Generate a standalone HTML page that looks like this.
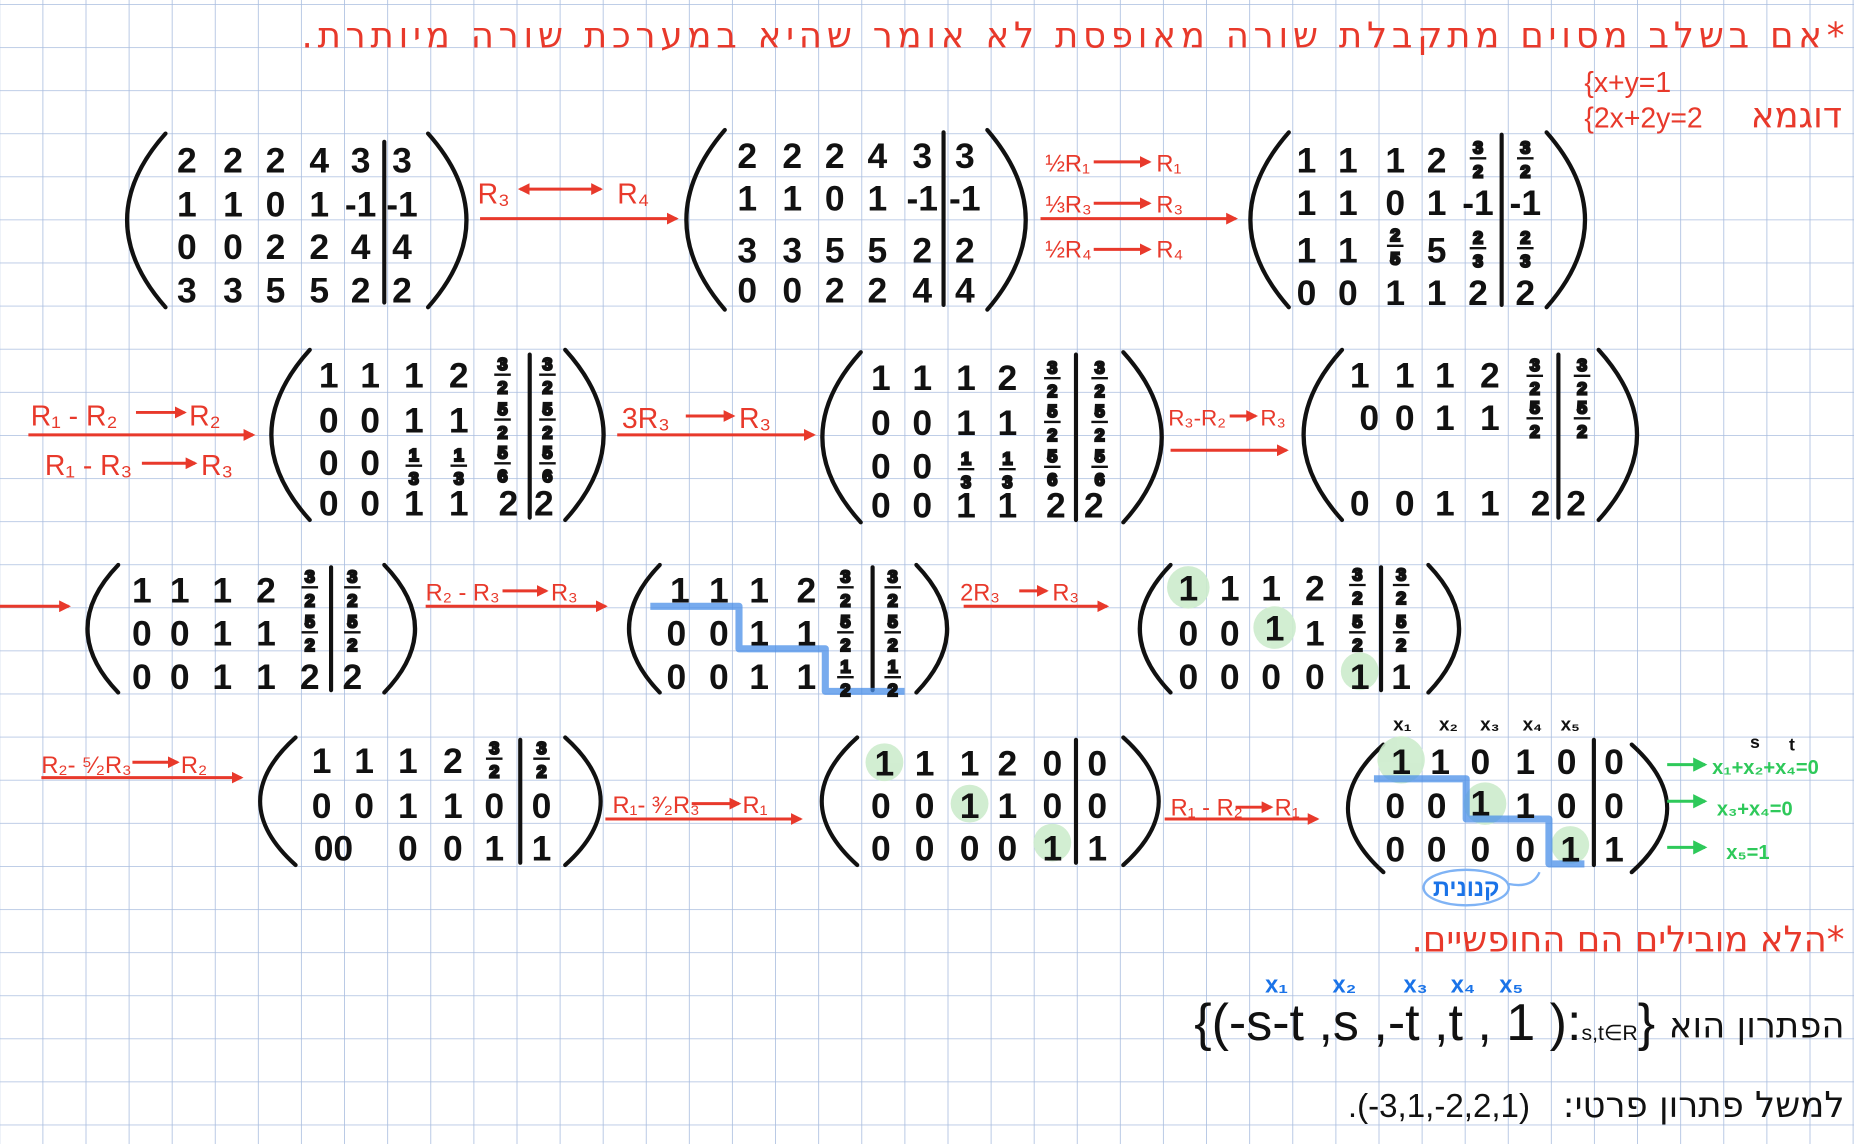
<!DOCTYPE html>
<html><head><meta charset="utf-8">
<style>
html,body{margin:0;padding:0;background:#fff;}
body{width:1854px;height:1144px;overflow:hidden;position:relative;}
svg{position:absolute;left:0;top:0;}
.n{font-family:"Liberation Sans","DejaVu Sans",sans-serif;font-weight:bold;font-size:30px;fill:#111;text-anchor:middle;}
.f{font-family:"Liberation Sans",sans-serif;font-weight:bold;font-size:15px;fill:#111;text-anchor:middle;}
.r{font-family:"Liberation Sans","DejaVu Sans",sans-serif;fill:#e8392b;font-size:24px;}
.h{font-family:"DejaVu Sans","Liberation Sans",sans-serif;font-size:30px;}
.rtl{direction:rtl;unicode-bidi:embed;text-anchor:start;}
.g{font-family:"Liberation Sans",sans-serif;fill:#2ec95a;font-size:17px;font-weight:bold;}
.b{font-family:"Liberation Sans",sans-serif;fill:#1a73e8;font-size:20px;font-weight:bold;}
</style></head><body>
<svg width="1854" height="1144">
<defs><pattern id="gp" x="0.2" y="4" width="43.1" height="43.1" patternUnits="userSpaceOnUse">
<path d="M43.1 0V43.1M0 0H43.1" stroke="#a9bddf" stroke-width="1.6" fill="none"/></pattern></defs>
<rect width="1854" height="1144" fill="url(#gp)"/>
</svg>
<svg width="1854" height="1144" viewBox="0 0 1568 968" preserveAspectRatio="none">
<defs><marker id="ar" markerWidth="10" markerHeight="10" refX="8" refY="5" orient="auto" markerUnits="userSpaceOnUse"><path d="M0,0L10,5L0,10z" fill="#e8392b"/></marker>
<marker id="ars" markerWidth="10" markerHeight="10" refX="2" refY="5" orient="auto" markerUnits="userSpaceOnUse"><path d="M10,0L0,5L10,10z" fill="#e8392b"/></marker>
<marker id="ag" markerWidth="12" markerHeight="12" refX="10" refY="6" orient="auto" markerUnits="userSpaceOnUse"><path d="M0,0L12,6L0,12z" fill="#2ec95a"/></marker></defs>
<g fill="none" stroke="#111" stroke-width="3.5" stroke-linecap="round">
<path d="M140,113Q75,186 140,260M362,113Q427,186 362,260"/>
<path d="M613,110Q548,186 613,262M835,110Q900,186 835,262"/>
<path d="M1090,112Q1025,186 1090,260M1308,112Q1373,186 1308,260"/>
<path d="M262,296Q197,368 262,440M478,296Q543,368 478,440"/>
<path d="M728,298Q663,370 728,442M950,298Q1015,370 950,442"/>
<path d="M1135,296Q1070,368 1135,440M1352,296Q1417,368 1352,440"/>
<path d="M100,478Q48,532 100,586M325,478Q377,532 325,586"/>
<path d="M558,478Q506,532 558,586M775,478Q827,532 775,586"/>
<path d="M990,478Q938,532 990,586M1208,478Q1260,532 1208,586"/>
<path d="M250,624Q190,678 250,732M478,624Q538,678 478,732"/>
<path d="M725,624Q665,678 725,732M950,624Q1010,678 950,732"/>
<path d="M1170,630Q1110,684 1170,738M1380,630Q1440,684 1380,738"/>
<path d="M325,120V256M798,112V258M1270,114V258M448,300V438M910,300V440M1318,300V438M280,480V584M738,480V584M1168,480V584M440,626V730M910,626V730M1348,626V732"/>
</g>
<g fill="#cdeccd" opacity="0.9">
<circle cx="1005" cy="497" r="18"/><circle cx="1078" cy="531" r="18"/><circle cx="1150" cy="568" r="16"/>
<circle cx="748" cy="645" r="16"/><circle cx="820" cy="680" r="16"/><circle cx="890" cy="713" r="16"/>
<circle cx="1185" cy="643" r="20"/><circle cx="1256" cy="680" r="18"/><circle cx="1328" cy="715" r="16"/>
</g>
<g fill="none" stroke="#4a8fe8" stroke-width="6" opacity="0.75" stroke-linejoin="round">
<path d="M550,513H625V549H698V585H765"/>
<path d="M1162,659H1240V693H1310V731H1340"/>
</g>
<g class="n">
<text x="158" y="146">2</text><text x="197" y="146">2</text><text x="233" y="146">2</text><text x="270" y="146">4</text><text x="305" y="146">3</text><text x="340" y="146">3</text>
<text x="158" y="183">1</text><text x="197" y="183">1</text><text x="233" y="183">0</text><text x="270" y="183">1</text><text x="305" y="183">-1</text><text x="340" y="183">-1</text>
<text x="158" y="219">0</text><text x="197" y="219">0</text><text x="233" y="219">2</text><text x="270" y="219">2</text><text x="305" y="219">4</text><text x="340" y="219">4</text>
<text x="158" y="256">3</text><text x="197" y="256">3</text><text x="233" y="256">5</text><text x="270" y="256">5</text><text x="305" y="256">2</text><text x="340" y="256">2</text>
<text x="632" y="142">2</text><text x="670" y="142">2</text><text x="706" y="142">2</text><text x="742" y="142">4</text><text x="780" y="142">3</text><text x="816" y="142">3</text>
<text x="632" y="178">1</text><text x="670" y="178">1</text><text x="706" y="178">0</text><text x="742" y="178">1</text><text x="780" y="178">-1</text><text x="816" y="178">-1</text>
<text x="632" y="222">3</text><text x="670" y="222">3</text><text x="706" y="222">5</text><text x="742" y="222">5</text><text x="780" y="222">2</text><text x="816" y="222">2</text>
<text x="632" y="256">0</text><text x="670" y="256">0</text><text x="706" y="256">2</text><text x="742" y="256">2</text><text x="780" y="256">4</text><text x="816" y="256">4</text>
<text x="1105" y="146">1</text><text x="1140" y="146">1</text><text x="1180" y="146">1</text><text x="1215" y="146">2</text>
<text x="1105" y="182">1</text><text x="1140" y="182">1</text><text x="1180" y="182">0</text><text x="1215" y="182">1</text><text x="1250" y="182">-1</text><text x="1290" y="182">-1</text>
<text x="1105" y="222">1</text><text x="1140" y="222">1</text><text x="1215" y="222">5</text>
<text x="1105" y="258">0</text><text x="1140" y="258">0</text><text x="1180" y="258">1</text><text x="1215" y="258">1</text><text x="1250" y="258">2</text><text x="1290" y="258">2</text>
<text x="278" y="328">1</text><text x="313" y="328">1</text><text x="350" y="328">1</text><text x="388" y="328">2</text>
<text x="278" y="366">0</text><text x="313" y="366">0</text><text x="350" y="366">1</text><text x="388" y="366">1</text>
<text x="278" y="402">0</text><text x="313" y="402">0</text>
<text x="278" y="436">0</text><text x="313" y="436">0</text><text x="350" y="436">1</text><text x="388" y="436">1</text><text x="430" y="436">2</text><text x="460" y="436">2</text>
<text x="745" y="330">1</text><text x="780" y="330">1</text><text x="817" y="330">1</text><text x="852" y="330">2</text>
<text x="745" y="368">0</text><text x="780" y="368">0</text><text x="817" y="368">1</text><text x="852" y="368">1</text>
<text x="745" y="405">0</text><text x="780" y="405">0</text>
<text x="745" y="438">0</text><text x="780" y="438">0</text><text x="817" y="438">1</text><text x="852" y="438">1</text><text x="893" y="438">2</text><text x="925" y="438">2</text>
<text x="1150" y="328">1</text><text x="1188" y="328">1</text><text x="1222" y="328">1</text><text x="1260" y="328">2</text>
<text x="1158" y="364">0</text><text x="1188" y="364">0</text><text x="1222" y="364">1</text><text x="1260" y="364">1</text>
<text x="1150" y="436">0</text><text x="1188" y="436">0</text><text x="1222" y="436">1</text><text x="1260" y="436">1</text><text x="1303" y="436">2</text><text x="1333" y="436">2</text>
<text x="120" y="510">1</text><text x="152" y="510">1</text><text x="188" y="510">1</text><text x="225" y="510">2</text>
<text x="120" y="546">0</text><text x="152" y="546">0</text><text x="188" y="546">1</text><text x="225" y="546">1</text>
<text x="120" y="583">0</text><text x="152" y="583">0</text><text x="188" y="583">1</text><text x="225" y="583">1</text><text x="262" y="583">2</text><text x="298" y="583">2</text>
<text x="575" y="510">1</text><text x="608" y="510">1</text><text x="642" y="510">1</text><text x="682" y="510">2</text>
<text x="572" y="546">0</text><text x="608" y="546">0</text><text x="642" y="546">1</text><text x="682" y="546">1</text>
<text x="572" y="583">0</text><text x="608" y="583">0</text><text x="642" y="583">1</text><text x="682" y="583">1</text>
<text x="1005" y="508">1</text><text x="1040" y="508">1</text><text x="1075" y="508">1</text><text x="1112" y="508">2</text>
<text x="1005" y="546">0</text><text x="1040" y="546">0</text><text x="1078" y="542">1</text><text x="1112" y="546">1</text>
<text x="1005" y="583">0</text><text x="1040" y="583">0</text><text x="1075" y="583">0</text><text x="1112" y="583">0</text><text x="1150" y="583">1</text><text x="1185" y="583">1</text>
<text x="272" y="654">1</text><text x="308" y="654">1</text><text x="345" y="654">1</text><text x="383" y="654">2</text>
<text x="272" y="692">0</text><text x="308" y="692">0</text><text x="345" y="692">1</text><text x="383" y="692">1</text><text x="418" y="692">0</text><text x="458" y="692">0</text>
<text x="282" y="728">00</text><text x="345" y="728">0</text><text x="383" y="728">0</text><text x="418" y="728">1</text><text x="458" y="728">1</text>
<text x="748" y="656">1</text><text x="782" y="656">1</text><text x="820" y="656">1</text><text x="852" y="656">2</text><text x="890" y="656">0</text><text x="928" y="656">0</text>
<text x="745" y="692">0</text><text x="782" y="692">0</text><text x="820" y="692">1</text><text x="852" y="692">1</text><text x="890" y="692">0</text><text x="928" y="692">0</text>
<text x="745" y="728">0</text><text x="782" y="728">0</text><text x="820" y="728">0</text><text x="852" y="728">0</text><text x="890" y="728">1</text><text x="928" y="728">1</text>
<text x="1185" y="655">1</text><text x="1218" y="655">1</text><text x="1252" y="655">0</text><text x="1290" y="655">1</text><text x="1325" y="655">0</text><text x="1365" y="655">0</text>
<text x="1180" y="692">0</text><text x="1215" y="692">0</text><text x="1252" y="690">1</text><text x="1290" y="692">1</text><text x="1325" y="692">0</text><text x="1365" y="692">0</text>
<text x="1180" y="729">0</text><text x="1215" y="729">0</text><text x="1252" y="729">0</text><text x="1290" y="729">0</text><text x="1328" y="729">1</text><text x="1365" y="729">1</text>
</g>
<g class="f" stroke="#111" stroke-width="2">
<g transform="translate(1250,132)"><text y="-2">3</text><line x1="-7" x2="7" y1="2" y2="2"/><text y="18">2</text></g>
<g transform="translate(1290,132)"><text y="-2">3</text><line x1="-7" x2="7" y1="2" y2="2"/><text y="18">2</text></g>
<g transform="translate(1180,206)"><text y="-2">2</text><line x1="-7" x2="7" y1="2" y2="2"/><text y="18">5</text></g>
<g transform="translate(1250,208)"><text y="-2">2</text><line x1="-7" x2="7" y1="2" y2="2"/><text y="18">3</text></g>
<g transform="translate(1290,208)"><text y="-2">2</text><line x1="-7" x2="7" y1="2" y2="2"/><text y="18">3</text></g>
<g transform="translate(425,315)"><text y="-2">3</text><line x1="-7" x2="7" y1="2" y2="2"/><text y="18">2</text></g>
<g transform="translate(463,315)"><text y="-2">3</text><line x1="-7" x2="7" y1="2" y2="2"/><text y="18">2</text></g>
<g transform="translate(425,353)"><text y="-2">5</text><line x1="-7" x2="7" y1="2" y2="2"/><text y="18">2</text></g>
<g transform="translate(463,353)"><text y="-2">5</text><line x1="-7" x2="7" y1="2" y2="2"/><text y="18">2</text></g>
<g transform="translate(350,392)"><text y="-2">1</text><line x1="-7" x2="7" y1="2" y2="2"/><text y="18">3</text></g>
<g transform="translate(388,392)"><text y="-2">1</text><line x1="-7" x2="7" y1="2" y2="2"/><text y="18">3</text></g>
<g transform="translate(425,390)"><text y="-2">5</text><line x1="-7" x2="7" y1="2" y2="2"/><text y="18">6</text></g>
<g transform="translate(463,390)"><text y="-2">5</text><line x1="-7" x2="7" y1="2" y2="2"/><text y="18">6</text></g>
<g transform="translate(890,318)"><text y="-2">3</text><line x1="-7" x2="7" y1="2" y2="2"/><text y="18">2</text></g>
<g transform="translate(930,318)"><text y="-2">3</text><line x1="-7" x2="7" y1="2" y2="2"/><text y="18">2</text></g>
<g transform="translate(890,355)"><text y="-2">5</text><line x1="-7" x2="7" y1="2" y2="2"/><text y="18">2</text></g>
<g transform="translate(930,355)"><text y="-2">5</text><line x1="-7" x2="7" y1="2" y2="2"/><text y="18">2</text></g>
<g transform="translate(817,395)"><text y="-2">1</text><line x1="-7" x2="7" y1="2" y2="2"/><text y="18">3</text></g>
<g transform="translate(852,395)"><text y="-2">1</text><line x1="-7" x2="7" y1="2" y2="2"/><text y="18">3</text></g>
<g transform="translate(890,393)"><text y="-2">5</text><line x1="-7" x2="7" y1="2" y2="2"/><text y="18">6</text></g>
<g transform="translate(930,393)"><text y="-2">5</text><line x1="-7" x2="7" y1="2" y2="2"/><text y="18">6</text></g>
<g transform="translate(1298,316)"><text y="-2">3</text><line x1="-7" x2="7" y1="2" y2="2"/><text y="18">2</text></g>
<g transform="translate(1338,316)"><text y="-2">3</text><line x1="-7" x2="7" y1="2" y2="2"/><text y="18">2</text></g>
<g transform="translate(1298,352)"><text y="-2">5</text><line x1="-7" x2="7" y1="2" y2="2"/><text y="18">2</text></g>
<g transform="translate(1338,352)"><text y="-2">5</text><line x1="-7" x2="7" y1="2" y2="2"/><text y="18">2</text></g>
<g transform="translate(262,495)"><text y="-2">3</text><line x1="-7" x2="7" y1="2" y2="2"/><text y="18">2</text></g>
<g transform="translate(298,495)"><text y="-2">3</text><line x1="-7" x2="7" y1="2" y2="2"/><text y="18">2</text></g>
<g transform="translate(262,533)"><text y="-2">5</text><line x1="-7" x2="7" y1="2" y2="2"/><text y="18">2</text></g>
<g transform="translate(298,533)"><text y="-2">5</text><line x1="-7" x2="7" y1="2" y2="2"/><text y="18">2</text></g>
<g transform="translate(715,495)"><text y="-2">3</text><line x1="-7" x2="7" y1="2" y2="2"/><text y="18">2</text></g>
<g transform="translate(755,495)"><text y="-2">3</text><line x1="-7" x2="7" y1="2" y2="2"/><text y="18">2</text></g>
<g transform="translate(715,533)"><text y="-2">5</text><line x1="-7" x2="7" y1="2" y2="2"/><text y="18">2</text></g>
<g transform="translate(755,533)"><text y="-2">5</text><line x1="-7" x2="7" y1="2" y2="2"/><text y="18">2</text></g>
<g transform="translate(715,571)"><text y="-2">1</text><line x1="-7" x2="7" y1="2" y2="2"/><text y="18">2</text></g>
<g transform="translate(755,571)"><text y="-2">1</text><line x1="-7" x2="7" y1="2" y2="2"/><text y="18">2</text></g>
<g transform="translate(1148,493)"><text y="-2">3</text><line x1="-7" x2="7" y1="2" y2="2"/><text y="18">2</text></g>
<g transform="translate(1185,493)"><text y="-2">3</text><line x1="-7" x2="7" y1="2" y2="2"/><text y="18">2</text></g>
<g transform="translate(1148,533)"><text y="-2">5</text><line x1="-7" x2="7" y1="2" y2="2"/><text y="18">2</text></g>
<g transform="translate(1185,533)"><text y="-2">5</text><line x1="-7" x2="7" y1="2" y2="2"/><text y="18">2</text></g>
<g transform="translate(418,640)"><text y="-2">3</text><line x1="-7" x2="7" y1="2" y2="2"/><text y="18">2</text></g>
<g transform="translate(458,640)"><text y="-2">3</text><line x1="-7" x2="7" y1="2" y2="2"/><text y="18">2</text></g>
</g>
<g stroke="#e8392b" stroke-width="2.5" fill="none" marker-end="url(#ar)">
<path d="M406,185H572"/><path d="M440,160H508" marker-start="url(#ars)"/>
<path d="M880,185H1045"/><path d="M925,137H972"/><path d="M925,172H972"/><path d="M925,211H972"/>
<path d="M24,368H214"/><path d="M115,349H156"/><path d="M120,392H165"/>
<path d="M522,368H688"/><path d="M580,352H620"/>
<path d="M990,381H1088"/><path d="M1040,352H1062"/>
<path d="M0,513H58"/><path d="M360,513H512"/><path d="M425,500H462"/>
<path d="M815,513H936"/><path d="M862,500H885"/>
<path d="M35,658H204"/><path d="M112,645H150"/>
<path d="M512,693H677"/><path d="M585,680H625"/>
<path d="M985,693H1114"/><path d="M1045,683H1075"/>
</g>
<g class="r">
<text x="404" y="172">R₃</text><text x="522" y="172">R₄</text>
<text x="884" y="145" font-size="20">½R₁</text><text x="978" y="145" font-size="20">R₁</text>
<text x="884" y="180" font-size="20">⅓R₃</text><text x="978" y="180" font-size="20">R₃</text>
<text x="884" y="218" font-size="20">½R₄</text><text x="978" y="218" font-size="20">R₄</text>
<text x="26" y="360">R₁ - R₂</text><text x="160" y="360">R₂</text>
<text x="38" y="402">R₁ - R₃</text><text x="170" y="402">R₃</text>
<text x="526" y="362">3R₃</text><text x="625" y="362">R₃</text>
<text x="988" y="360" font-size="19">R₃-R₂</text><text x="1066" y="360" font-size="19">R₃</text>
<text x="360" y="508" font-size="20">R₂ - R₃</text><text x="466" y="508" font-size="20">R₃</text>
<text x="812" y="508" font-size="20">2R₃</text><text x="890" y="508" font-size="20">R₃</text>
<text x="35" y="654" font-size="20">R₂- ⁵⁄₂R₃</text><text x="153" y="654" font-size="20">R₂</text>
<text x="518" y="688" font-size="20">R₁- ³⁄₂R₃</text><text x="628" y="688" font-size="20">R₁</text>
<text x="990" y="690" font-size="20">R₁ - R₂</text><text x="1078" y="690" font-size="20">R₁</text>
</g>
<g font-family="Liberation Sans,sans-serif" font-size="16" font-weight="bold" fill="#111" text-anchor="middle">
<text x="1186" y="618">x₁</text><text x="1225" y="618">x₂</text><text x="1260" y="618">x₃</text><text x="1296" y="618">x₄</text><text x="1328" y="618">x₅</text>
</g>
<g stroke="#2ec95a" stroke-width="2.5" marker-end="url(#ag)"><path d="M1410,647H1442"/><path d="M1410,678H1442"/><path d="M1410,717H1442"/></g>
<g class="g"><text x="1448" y="655">x₁+x₂+x₄=0</text><text x="1452" y="690">x₃+x₄=0</text><text x="1460" y="727">x₅=1</text>
<text x="1480" y="633" fill="#111" font-size="15">s</text><text x="1513" y="635" fill="#111" font-size="15">t</text></g>
<ellipse cx="1240" cy="751" rx="36" ry="15" fill="none" stroke="#7fb3f5" stroke-width="2"/>
<path d="M1276,748Q1296,752 1302,738" fill="none" stroke="#7fb3f5" stroke-width="2"/>
<text x="1240" y="758" class="b" font-size="18" text-anchor="middle" font-family="DejaVu Sans">קנונית</text>
<text x="1560" y="40" class="h r rtl" font-size="30" textLength="1305" lengthAdjust="spacing">*אם בשלב מסוים מתקבלת שורה מאופסת  לא אומר שהיא במערכת שורה מיותרת.</text>
<text x="1558" y="108" class="h r rtl" font-size="28">דוגמא</text>
<text x="1340" y="78" class="r" font-size="22">{x+y=1</text>
<text x="1340" y="108" class="r" font-size="22">{2x+2y=2</text>
<text x="1560" y="805" class="h r rtl" font-size="28">*הלא מובילים הם החופשיים.</text>
<g class="b"><text x="1070" y="840">x₁</text><text x="1127" y="840">x₂</text><text x="1187" y="840">x₃</text><text x="1227" y="840">x₄</text><text x="1268" y="840">x₅</text></g>
<text x="1010" y="880" font-family="Liberation Sans,sans-serif" font-size="44" fill="#111">{(-s-t ,s ,-t ,t , 1 ):<tspan font-size="18">s,t∈R</tspan>}</text>
<text x="1560" y="878" class="h rtl" font-size="32" fill="#111">הפתרון הוא</text>
<text x="1140" y="945" font-family="Liberation Sans,sans-serif" font-size="28" fill="#111">.(-3,1,-2,2,1)</text>
<text x="1560" y="945" class="h rtl" font-size="28" fill="#111">למשל פתרון פרטי:</text>
</svg>
</body></html>
